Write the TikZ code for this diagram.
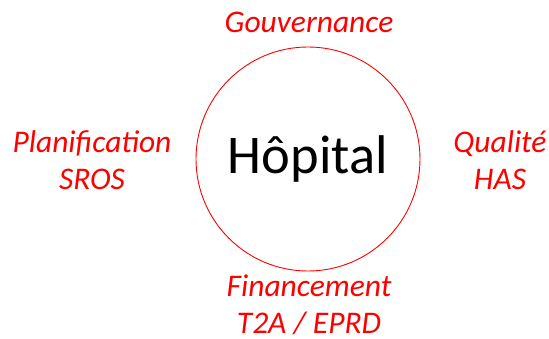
\documentclass[tikz,border=0pt]{standalone}
\usepackage{fontspec}
\setmainfont{Carlito}
\begin{document}
\begin{tikzpicture}[x=1pt,y=1pt,
  lbl/.style={text=red,font=\itshape\fontsize{31.5}{37.5}\selectfont,align=center,inner sep=0pt},
  hub/.style={circle,draw=red,line width=0.9pt,minimum size=224pt,inner sep=0pt,font=\fontsize{54.5}{60}\selectfont}]
\useasboundingbox (0,0) rectangle (549,338);
\node[hub] (h) at (308,179) {Hôpital};
\node[lbl] (g) at (309,316) {Gouvernance};
\node[lbl] (p) at (92,178) {Planification\\SROS};
\node[lbl] (q) at (500,178) {Qualité\\HAS};
\node[lbl] (f) at (309,33) {Financement\\T2A / EPRD};
\end{tikzpicture}
\end{document}
